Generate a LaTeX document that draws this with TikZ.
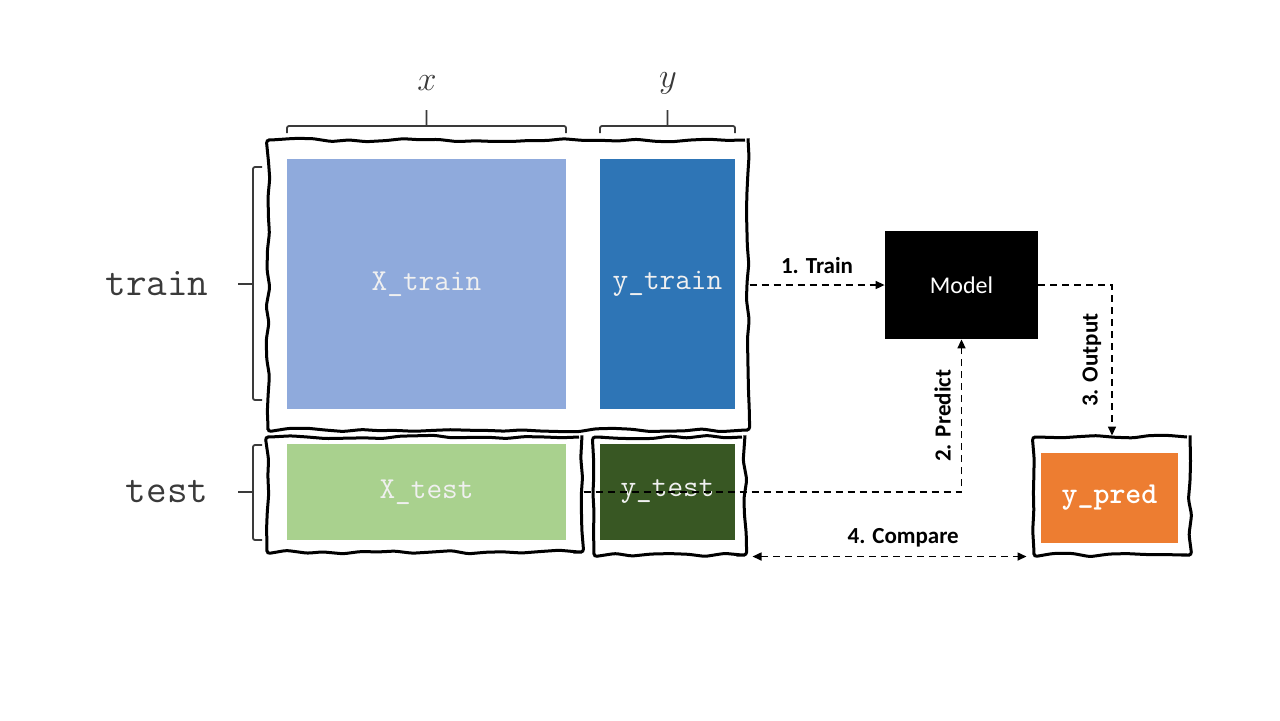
\documentclass[tikz,border=0pt]{standalone}
\usepackage{fontspec}
\setmainfont{Carlito}
\usetikzlibrary{arrows.meta,decorations.pathmorphing,positioning}

\definecolor{trainblue}{HTML}{8FAADC}
\definecolor{trainydark}{HTML}{2E75B6}
\definecolor{testgreen}{HTML}{A9D18E}
\definecolor{testydark}{HTML}{385723}
\definecolor{predorange}{HTML}{ED7D31}
\definecolor{bracegray}{HTML}{3A3A3A}

\begin{document}
\pgfmathsetseed{7}
\begin{tikzpicture}[x=0.5pt, y=-0.5pt,
    sketchbox/.style={draw, line width=1.5pt, decorate,
      decoration={random steps, segment length=9pt, amplitude=0.9pt},
      rounded corners=1.5pt, inner sep=0pt},
    datablock/.style={inner sep=0pt, text=white!88!gray,
      font=\ttfamily\fontsize{15.2}{16}\selectfont},
    bracket/.style={draw=bracegray, line width=0.9pt, rounded corners=1pt},
    sidelabel/.style={text=bracegray, font=\ttfamily\fontsize{20}{20}\selectfont},
    flow/.style={draw, line width=0.8pt, dash pattern=on 3.5pt off 2.5pt},
    tip/.style={-{Triangle[length=4.5pt,width=4pt]}},
    steplabel/.style={font=\bfseries\fontsize{11.5}{13}\selectfont},
    ]
    \useasboundingbox (0,0) rectangle (1280,720);

    % wavy frames
    \node[sketchbox, minimum width=240pt, minimum height=145pt] (trainbox) at (508,285) {};
    \node[sketchbox, minimum width=157.5pt, minimum height=57.5pt] (xtestbox) at (424.5,494.5) {};
    \node[sketchbox, minimum width=75.5pt, minimum height=59pt] (ytestbox) at (669.5,496) {};
    \node[sketchbox, minimum width=78pt, minimum height=59pt] (predbox) at (1112,496) {};

    % data blocks
    \node[datablock, fill=trainblue, minimum width=139.5pt, minimum height=125pt] (xtrain) at (426.5,284) {X\_train};
    \node[datablock, fill=trainydark, minimum width=67.5pt, minimum height=125pt] (ytrain) at (667.5,284) {y\_train};
    \node[datablock, fill=testgreen, minimum width=139.5pt, minimum height=48pt] (xtest) at (426.5,492) {X\_test};
    \node[datablock, fill=testydark, minimum width=67.5pt, minimum height=48pt] (ytest) at (667.5,492) {y\_test};
    \node[datablock, fill=predorange, text=white, minimum width=68.5pt, minimum height=45pt,
      font=\ttfamily\bfseries\fontsize{15.2}{16}\selectfont] (ypred) at (1109.5,498) {y\_pred};
    \node[fill=black, text=white, minimum width=76.5pt, minimum height=54pt,
      font=\fontsize{12}{14}\selectfont] (model) at (961.5,285) {Model};

    % brackets
    \draw[bracket] (287,133) -- (287,126) -- (566,126) -- (566,133) (426.5,126) -- (426.5,110);
    \draw[bracket] (600,133) -- (600,126) -- (735,126) -- (735,133) (667.5,126) -- (667.5,110);
    \draw[bracket] (262,167) -- (253,167) -- (253,400) -- (262,400) (253,284) -- (238,284);
    \draw[bracket] (262,445) -- (253,445) -- (253,540) -- (262,540) (253,492) -- (238,492);
    \node[text=bracegray, font=\fontsize{16}{16}\selectfont] (xlab) at (427,83) {$x$};
    \node[text=bracegray, font=\fontsize{16}{16}\selectfont] (ylab) at (668,83) {$y$};
    \node[sidelabel] (trainlab) at (157,284) {train};
    \node[sidelabel] (testlab) at (167,492) {test};

    % connectors
    \draw[flow, tip] (trainbox.east) -- node[steplabel, above=2pt] {1. Train} (model.west);
    \draw[flow, tip] (model.east) -| node[steplabel, pos=0.75, rotate=90, anchor=south, inner sep=5pt] {3. Output} (predbox.north);
    \draw[flow, tip] (xtestbox.east |- xtest.east) -| node[steplabel, pos=0.75, rotate=90, anchor=south, inner sep=5pt] {2. Predict} (model.south);
    \draw[flow, {Triangle[length=4.5pt,width=4pt]}-{Triangle[length=4.5pt,width=4pt]}]
      ([xshift=3pt]ytestbox.south east) -- node[steplabel, above=1pt, pos=0.55] {4. Compare} ([xshift=-3pt]predbox.south west);
\end{tikzpicture}
\end{document}
